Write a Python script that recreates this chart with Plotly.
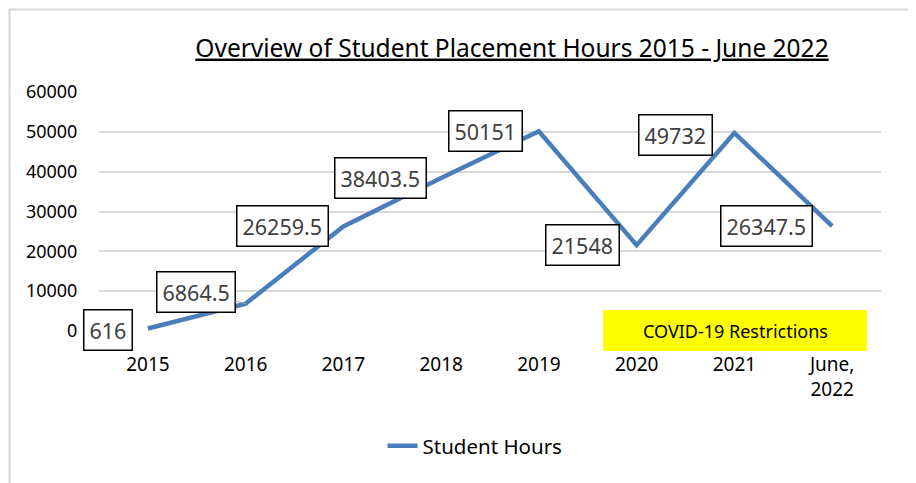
import plotly.graph_objects as go

categories = ["2015", "2016", "2017", "2018", "2019", "2020", "2021", "June,<br>2022"]
student_hours = [616, 6864.5, 26259.5, 38403.5, 50151, 21548, 49732, 26347.5]
label_texts = ["616", "6864.5", "26259.5", "38403.5", "50151", "21548", "49732", "26347.5"]
y_ticks = [0, 10000, 20000, 30000, 40000, 50000, 60000]

# label offsets (pixels) relative to each point
label_dx = [-40, -50, -61, -61, -53, -54, -59, -66]
label_dy = [-1, 12, 0, 0, 0, 0, -2, 0]

FONT = "Noto Sans"
OFF = 8  # page body margin
W, H = 916 - OFF, 483 - OFF
PL, PT = 99, 92          # plot area top-left in page pixels
pw, ph = 782, 239
L, T = PL - OFF, PT - OFF
R, B = W - L - pw, H - T - ph

fig = go.Figure()
fig.add_trace(go.Scatter(
    x=list(range(len(categories))), y=student_hours, mode="lines",
    name="Student Hours",
    line=dict(color="#4a7ebb", width=4.5),
))

for i, (v, t) in enumerate(zip(student_hours, label_texts)):
    common = dict(x=i, y=v, xref="x", yref="y", text=t,
                  font=dict(family=FONT, size=21.5, color="#404040"),
                  bordercolor="black", borderwidth=1.5, borderpad=5,
                  bgcolor="white")
    if i == 1:
        fig.add_annotation(showarrow=True, ax=label_dx[i], ay=-label_dy[i],
                           arrowhead=0, arrowwidth=1, arrowcolor="#a6a6a6",
                           **common)
    else:
        fig.add_annotation(showarrow=False, xshift=label_dx[i],
                           yshift=label_dy[i], **common)


def px_x(p):
    return (p - PL) / pw


def px_y(p):
    return (PT + ph - p) / ph


# COVID box
fig.add_shape(type="rect", xref="paper", yref="paper",
              x0=px_x(603), x1=px_x(867), y0=px_y(351), y1=px_y(310),
              fillcolor="#ffff00", line=dict(width=0), layer="above")
fig.add_annotation(xref="paper", yref="paper", x=px_x(735), y=px_y(331),
                   xanchor="center", yanchor="middle",
                   text="COVID-19 Restrictions", showarrow=False,
                   font=dict(family=FONT, size=18, color="black"))

# outer border
fig.add_shape(type="rect", xref="paper", yref="paper",
              x0=px_x(9.5), x1=px_x(910), y0=px_y(530), y1=px_y(9.5),
              line=dict(color="#d9d9d9", width=2), fillcolor="rgba(0,0,0,0)")

fig.update_layout(
    width=W, height=H,
    margin=dict(l=L, r=R, t=T, b=B),
    paper_bgcolor="white", plot_bgcolor="white",
    font=dict(family=FONT, color="black"),
    title=dict(text='<span style="text-decoration:underline">Overview of Student Placement Hours 2015 - June 2022</span>',
               x=(512 - OFF) / W, xanchor="center",
               y=1 - (48 - OFF) / H, yanchor="middle",
               yref="container", xref="container",
               font=dict(family=FONT, size=24.5, color="black")),
    showlegend=True,
    legend=dict(orientation="h", x=px_x(475), xanchor="center",
                y=px_y(446), yanchor="middle",
                font=dict(family=FONT, size=20.5, color="black"),
                bgcolor="rgba(0,0,0,0)"),
    xaxis=dict(tickmode="array", tickvals=list(range(len(categories))),
               ticktext=categories, range=[-0.5, len(categories) - 0.5],
               showgrid=False, zeroline=False, showline=False,
               ticks="outside", ticklen=16, tickcolor="rgba(0,0,0,0)",
               tickfont=dict(family=FONT, size=19, color="black")),
    yaxis=dict(range=[0, 60000], tickvals=y_ticks,
               ticktext=[str(v) for v in y_ticks],
               showgrid=True, gridcolor="#d9d9d9", gridwidth=2,
               zeroline=False, showline=False,
               ticks="outside", ticklen=17, tickcolor="rgba(0,0,0,0)",
               tickfont=dict(family=FONT, size=18, color="black")),
)

fig.write_html("out.html")
